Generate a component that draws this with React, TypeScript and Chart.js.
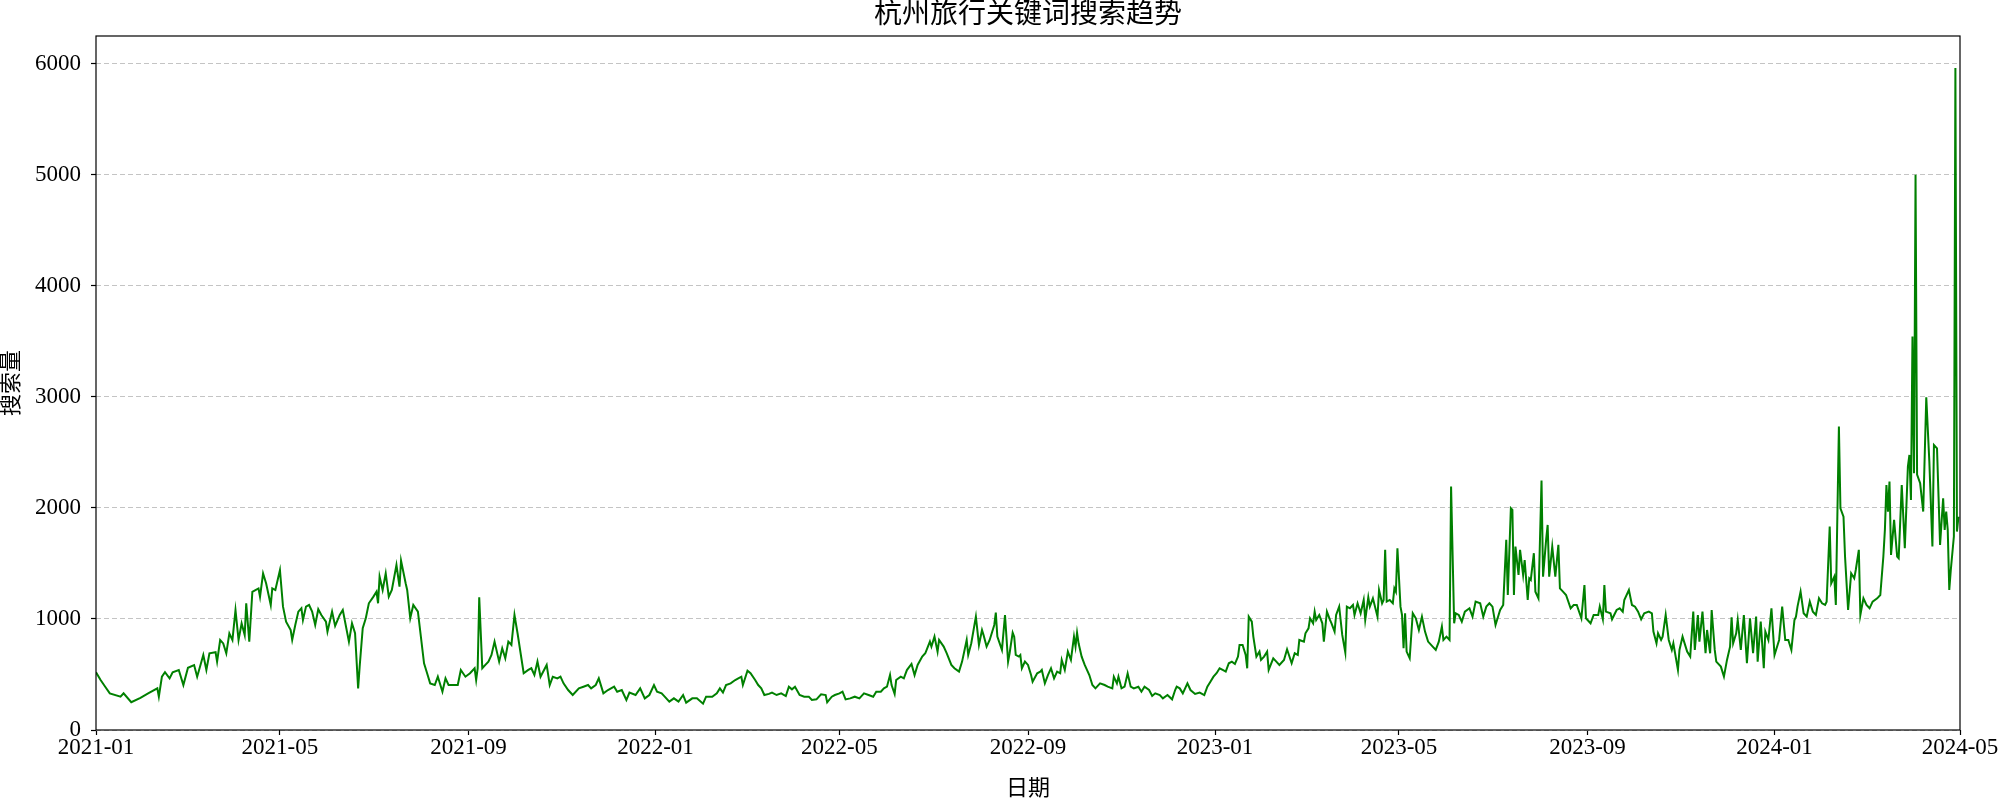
import React, { useEffect, useRef } from 'react';
import { Chart, registerables } from 'chart.js';

Chart.register(...registerables);

const TITLE = '杭州旅行关键词搜索趋势';
const X_LABEL = '日期';
const Y_LABEL = '搜索量';
const FONT = '"Liberation Serif", "Times New Roman", "Noto Sans CJK SC", serif';

// day offsets counted from 2021-01-01
const dayOffsets = [
  0, 3, 6, 9, 16, 18, 23, 29, 34, 40, 41, 43, 45, 48, 50, 54, 57, 60, 64, 66, 70, 72, 74, 78, 79, 81, 83, 85, 87, 89,
  91, 93, 95, 97, 98, 100, 102, 104, 106, 107, 109, 111, 114, 115, 117, 120,
  122, 124, 127, 128, 130, 132, 134, 135, 137, 139, 141, 143, 145, 147, 150, 151, 154, 156, 159, 161, 165, 167, 169, 171,
  172, 174, 176, 178, 181, 183, 184, 185, 187, 189, 191, 193, 196, 198, 199, 202, 203, 205, 207, 210, 214, 216, 218, 221,
  223, 226, 228, 230, 233, 236, 238,
  241, 244, 247, 248, 249, 250, 252, 254, 256, 258, 260, 263, 265, 267, 269, 271, 273, 275, 277, 279, 282, 284, 286, 288,
  290, 294, 296, 298, 301, 303, 305, 308, 311, 315, 318, 321, 323, 326, 328, 331, 334, 338, 340, 343, 346, 348, 352, 355,
  358, 361,
  364, 366, 369, 371, 374, 377, 380, 383, 385, 389, 392, 396, 398, 402, 405, 407, 409, 411, 414, 417, 419, 421, 422, 425,
  427, 430, 432, 434, 436, 439, 441, 444, 447, 450, 452, 454, 456, 459, 462, 465, 467, 470, 473, 476, 477, 480, 482,
  485, 487, 489, 492, 495, 498, 501, 504, 507, 509, 512, 514, 516, 518, 519, 521, 522, 525, 527, 529, 532, 534, 536, 539,
  541, 544, 545, 547, 549, 550, 553, 555, 558, 560, 563, 565, 568, 569, 571, 574, 576, 578, 579, 581, 583, 586, 587, 588,
  591, 593, 595, 596, 598, 599, 600,
  602, 603, 604, 606, 608, 610, 611, 614, 616, 617, 619, 621, 623, 625, 627, 629, 630, 632, 634, 636, 638, 639, 640, 641,
  643, 645, 648, 650, 652, 655, 658, 660, 663, 664, 666, 667, 669, 671, 673, 675, 677, 680, 682, 684, 687, 689, 691, 694,
  696, 699, 702, 704, 705, 707, 709, 712, 714, 717, 720,
  723, 725, 727, 729, 731, 733, 735, 737, 739, 741, 743, 745, 746, 748, 750, 751, 752, 754, 755, 757, 759, 760, 762, 764,
  765, 768, 770, 772, 775, 777, 780, 782, 784, 785, 788, 789, 791, 792, 794, 795, 796, 798, 800, 801, 803, 805, 806, 808,
  809, 811, 813, 815, 816, 818, 820, 821, 823, 825, 827, 828, 830, 831, 833, 836, 837, 839, 840, 841, 842, 844,
  846, 847, 848, 849, 851, 852, 853, 854, 855, 857, 859, 861, 863, 865, 867, 869, 872, 874, 876, 878, 879, 881, 883, 884,
  886, 887, 889, 891, 893, 896, 898, 900, 903, 905, 907, 909, 911, 913, 916, 918, 920, 921, 923, 924, 925, 926, 928, 929,
  931, 932, 934, 935, 936, 938, 939, 941, 943, 944, 946, 947, 948, 950, 952, 954, 955, 957, 959, 962, 964, 966,
  969, 971, 972, 975, 977, 980, 981, 983, 984, 985, 988, 989, 992, 994, 996, 997, 1000, 1002, 1004, 1006, 1008, 1010,
  1013, 1015, 1016, 1018, 1019, 1021, 1022, 1024, 1026, 1028, 1029, 1032, 1033, 1035, 1037, 1038, 1040, 1042, 1043, 1045,
  1046, 1048, 1050, 1051, 1053, 1054, 1056, 1057, 1060, 1062, 1064, 1066, 1067, 1068, 1070, 1071, 1073, 1075, 1077, 1079,
  1081, 1083, 1084,
  1086, 1088, 1089, 1091, 1093, 1095, 1096, 1098, 1100, 1102, 1104, 1106, 1108, 1109, 1110, 1112, 1114, 1116, 1118, 1120,
  1122, 1124, 1126, 1128, 1129, 1131, 1132, 1134, 1135, 1137, 1138, 1140, 1141, 1143, 1145, 1147, 1148, 1150, 1151, 1153,
  1155, 1157, 1159, 1162, 1164, 1166, 1167, 1168, 1169, 1170, 1171, 1173, 1175, 1176, 1178, 1180, 1182, 1183, 1184, 1185,
  1186, 1187, 1188, 1190, 1192, 1194, 1196, 1198, 1199, 1201, 1202, 1203, 1205, 1206, 1207, 1208, 1209, 1210, 1212, 1213,
  1214, 1215,
];

const searchVolume = [
  520, 450, 390, 330, 300, 330, 250, 290, 330, 375, 300, 480, 520, 465, 520, 540, 405, 560, 585, 480, 675, 540, 690, 700, 615, 810, 780, 690, 870, 810,
  1080, 810, 960, 855, 1140, 795, 1245, 1260, 1275, 1200, 1410, 1320, 1125, 1275, 1260, 1440,
  1111, 976, 900, 811, 946, 1066, 1096, 990, 1111, 1126, 1066, 946, 1087, 1036, 976, 886, 1066, 937, 1036, 1081, 796, 961, 871, 375,
  571, 916, 1006, 1141, 1201, 1246, 1141, 1381, 1261, 1411, 1201, 1261, 1486, 1291, 1525, 1321, 1261, 1006, 1126, 1066, 601, 511, 420, 405,
  480, 345, 465, 405, 405, 405, 540,
  480, 511, 556, 450, 556, 1195, 556, 586, 616, 676, 796, 616, 736, 646, 796, 766, 1036, 871, 691, 511, 541, 556, 496, 616,
  480, 586, 405, 480, 465, 480, 420, 360, 315, 375, 390, 405, 375, 405, 465, 330, 360, 390, 345, 360, 270, 337, 315, 375,
  285, 315,
  405, 345, 330, 300, 255, 285, 255, 315, 246, 285, 285, 237, 300, 300, 330, 375, 337, 405, 420, 450, 465, 480, 405, 534,
  511, 450, 405, 375, 315, 325, 337, 315, 330, 306, 390, 366, 390, 315, 300, 300, 270, 276, 321, 315, 249, 300, 315,
  330, 345, 276, 285, 300, 285, 330, 315, 300, 345, 345, 375, 390, 495, 405, 325, 450, 480, 465, 540, 595, 495, 586, 661,
  691, 796, 751, 841, 706, 811, 751, 691, 586, 556, 526, 616, 811, 676, 781, 1021, 766, 901, 856, 751, 811, 946, 1057, 841,
  721, 1036, 616, 691, 877, 841, 676,
  661, 676, 556, 616, 586, 495, 435, 511, 526, 541, 420, 495, 556, 465, 526, 511, 631, 541, 706, 631, 841, 751, 877, 781,
  661, 586, 495, 405, 375, 420, 405, 390, 375, 480, 420, 480, 375, 390, 510, 390, 375, 390, 345, 390, 360, 306, 330, 315,
  285, 315, 276, 360, 390, 375, 330, 420, 360, 325, 337,
  315, 390, 435, 480, 511, 556, 541, 526, 601, 616, 595, 661, 766, 766, 676, 556, 1021, 976, 841, 661, 706, 631, 661, 706,
  541, 646, 616, 586, 631, 727, 601, 691, 676, 811, 796, 871, 916, 1006, 961, 1066, 991, 1036, 961, 796, 1066, 991, 961, 886,
  1036, 1111, 856, 697, 1111, 1096, 1126, 1036, 1141, 1051, 1171, 991, 1195, 1111, 1186, 1021, 1261, 1141, 1171, 1622, 1156, 1171,
  1141, 1276, 1246, 1637, 1111, 1036, 736, 1051, 706, 646, 1051, 1006, 901, 1021, 886, 796, 751, 721, 796, 931, 811, 841, 811, 2192,
  961, 1051, 1036, 976, 1066, 1096, 1021, 1156, 1141, 1021, 1111, 1141, 1111, 946, 1081, 1126, 1712, 1216, 1997, 1982, 1216, 1652, 1396, 1622,
  1396, 1531, 1171, 1366, 1351, 1592, 1246, 1186, 2246, 1381, 1712, 1847, 1381, 1652, 1381, 1667, 1276, 1246, 1216, 1096, 1126, 1126,
  1006, 1306, 1006, 961, 1036, 1036, 1111, 997, 1306, 1066, 1051, 997, 1081, 1096, 1066, 1171, 1261, 1126, 1111, 1066, 997, 1051,
  1066, 1051, 886, 781, 871, 811, 841, 1036, 811, 721, 781, 541, 721, 841, 751, 706, 661, 1066, 721, 1036,
  796, 1066, 691, 901, 691, 1081, 721, 616, 571, 481, 631, 751, 1015, 781, 871, 991, 721, 1036, 601, 1006,
  691, 1021, 616,
  976, 556, 886, 811, 1096, 676, 721, 811, 1111, 811, 811, 721, 991, 1021, 1111, 1246, 1051, 1021, 1156, 1066,
  1036, 1186, 1141, 1126, 1156, 1832, 1321, 1381, 1126, 2733, 1997, 1922, 1562, 1081, 1411, 1366, 1441, 1622, 1036, 1186,
  1126, 1096, 1156, 1186, 1216, 1562, 1802, 2207, 1967, 2237, 1577, 1892, 1562, 1547, 2207, 1637, 2372, 2477, 2072, 3543,
  2312, 5000, 2300, 2222, 1967, 2997, 2417, 1652, 2567, 2537, 2102, 1667, 2087, 1802, 1967, 1802, 1261, 1441, 1742, 5961,
  1787, 1922,
];

const xTickDays = [0, 120, 243, 365, 485, 608, 730, 850, 973, 1095, 1216];
const xTickLabels = ['2021-01', '2021-05', '2021-09', '2022-01', '2022-05', '2022-09', '2023-01', '2023-05', '2023-09', '2024-01', '2024-05'];
const yTickValues = [0, 1000, 2000, 3000, 4000, 5000, 6000];

const decorPlugin = {
  id: 'decor',
  afterDraw(chart: any) {
    const { ctx, chartArea: a } = chart;
    ctx.save();
    ctx.strokeStyle = '#000';
    ctx.lineWidth = 1.2;
    ctx.strokeRect(a.left, a.top, a.right - a.left, a.bottom - a.top);
    ctx.fillStyle = '#000';
    ctx.textAlign = 'center';
    ctx.textBaseline = 'middle';
    const cx = (a.left + a.right) / 2;
    ctx.font = `28px ${FONT}`;
    ctx.fillText(TITLE, cx, 16);
    ctx.font = `22px ${FONT}`;
    ctx.fillText(X_LABEL, cx, 789);
    ctx.translate(12, (a.top + a.bottom) / 2);
    ctx.rotate(-Math.PI / 2);
    ctx.fillText(Y_LABEL, 0, 0);
    ctx.restore();
  },
};

export default function App() {
  const canvasRef = useRef<HTMLCanvasElement | null>(null);

  useEffect(() => {
    document.body.style.margin = '0';
    const canvas = canvasRef.current;
    if (!canvas) return;
    const points = dayOffsets.map((d, i) => ({ x: d, y: searchVolume[i] }));
    const chart = new Chart(canvas, {
      type: 'line',
      data: {
        datasets: [
          {
            label: Y_LABEL,
            data: points,
            borderColor: '#008000',
            borderWidth: 2,
            pointRadius: 0,
            tension: 0,
            fill: false,
          },
        ],
      },
      options: {
        responsive: false,
        animation: false,
        devicePixelRatio: 1,
        layout: { padding: { left: 0, right: 40, top: 36, bottom: 0 } },
        plugins: {
          legend: { display: false },
          title: { display: false },
          tooltip: { enabled: false },
        },
        scales: {
          x: {
            type: 'linear',
            min: 0,
            max: 1216,
            afterBuildTicks: (scale: any) => {
              scale.ticks = xTickDays.map((v) => ({ value: v }));
            },
            afterFit: (scale: any) => {
              scale.height = 69;
            },
            ticks: {
              autoSkip: false,
              maxRotation: 0,
              minRotation: 0,
              padding: -1,
              color: '#000',
              font: { family: FONT, size: 23 },
              callback: (value: any) => {
                const idx = xTickDays.indexOf(Number(value));
                return idx >= 0 ? xTickLabels[idx] : '';
              },
            },
            grid: {
              display: true,
              drawOnChartArea: false,
              drawTicks: true,
              tickLength: 5,
              tickColor: '#000',
              tickWidth: 1.2,
            },
            border: { display: false },
          },
          y: {
            type: 'linear',
            min: 0,
            max: 6250,
            afterBuildTicks: (scale: any) => {
              scale.ticks = yTickValues.map((v) => ({ value: v }));
            },
            afterFit: (scale: any) => {
              scale.width = 96;
            },
            ticks: {
              padding: 10,
              color: '#000',
              font: { family: FONT, size: 23 },
              callback: (value: any) => String(value),
            },
            grid: {
              display: true,
              drawOnChartArea: true,
              color: '#c4c4c4',
              lineWidth: 1,
              drawTicks: true,
              tickLength: 5,
              tickColor: '#000',
              tickWidth: 1.2,
            },
            border: { display: false, dash: [5, 3] },
          },
        },
      },
      plugins: [decorPlugin],
    });
    return () => chart.destroy();
  }, []);

  return (
    <div style={{ width: 2000, height: 799 }}>
      <canvas ref={canvasRef} width={2000} height={799} style={{ display: 'block' }} />
    </div>
  );
}
